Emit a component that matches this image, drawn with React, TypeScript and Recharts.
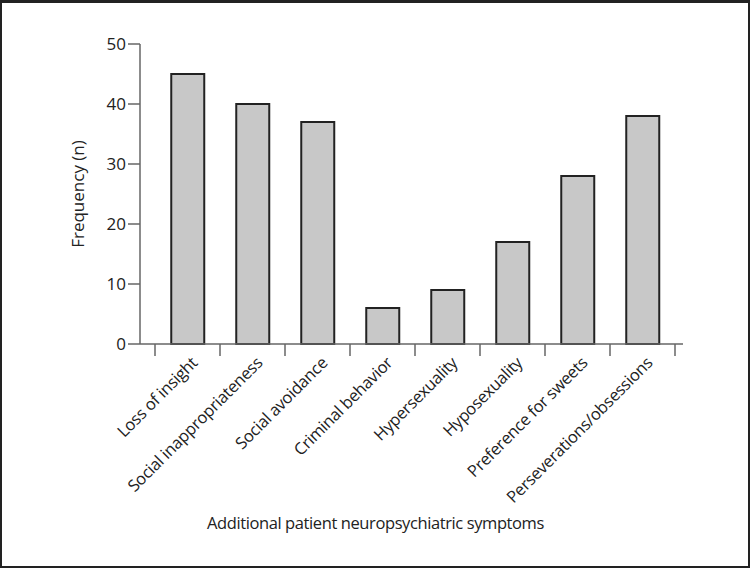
import { BarChart, Bar, XAxis, YAxis } from 'recharts'

const symptoms = [
  'Loss of insight',
  'Social inappropriateness',
  'Social avoidance',
  'Criminal behavior',
  'Hypersexuality',
  'Hyposexuality',
  'Preference for sweets',
  'Perseverations/obsessions',
]
const frequency = [45, 40, 37, 6, 9, 17, 28, 38]
const yTicks = [0, 10, 20, 30, 40, 50]

const data = symptoms.map((name, i) => ({ name, n: frequency[i] }))

const INK = '#222'
const AXIS = '#666'
const FONT = '"Open Sans", sans-serif'

// eslint-disable-next-line @typescript-eslint/no-explicit-any
function SymptomTick({ x, y, payload, index }: any) {
  const half = payload?.offset ?? 32.5
  return (
    <g>
      <line x1={x - half} x2={x - half} y1={y} y2={y + 12} stroke={AXIS} strokeWidth={1.5} />
      {index === symptoms.length - 1 && (
        <line x1={x + half} x2={x + half} y1={y} y2={y + 12} stroke={AXIS} strokeWidth={1.5} />
      )}
      <text
        x={x + 11}
        y={y + 20}
        textAnchor="end"
        transform={`rotate(-45 ${x + 11} ${y + 20})`}
        fill={INK}
        fontSize={16.5}
        letterSpacing={-0.3}
        fontFamily={FONT}
      >
        {payload.value}
      </text>
    </g>
  )
}

export default function App() {
  return (
    <div style={{
      position: 'fixed', top: 0, left: 0, width: 750, height: 568,
      boxSizing: 'border-box', border: '2px solid #222', borderTopWidth: 3,
      background: '#fff',
    }}>
      <div style={{ position: 'absolute', left: 0, top: 0 }}>
        <BarChart
          width={746}
          height={563}
          data={data}
          margin={{ top: 41, right: 65, left: 48, bottom: 0 }}
          barCategoryGap="25%"
        >
          <XAxis
            dataKey="name"
            type="category"
            padding={{ left: 15, right: 8 }}
            axisLine={{ stroke: AXIS, strokeWidth: 1.5 }}
            tickLine={false}
            tickSize={0}
            tickMargin={0}
            interval={0}
            height={222}
            tick={<SymptomTick />}
            label={{
              value: 'Additional patient neuropsychiatric symptoms',
              position: 'insideBottom',
              offset: 37,
              dx: -36,
              fill: INK,
              fontSize: 16.5,
              letterSpacing: -0.4,
              fontFamily: FONT,
            }}
          />
          <YAxis
            domain={[0, 50]}
            ticks={yTicks}
            width={90}
            axisLine={{ stroke: AXIS, strokeWidth: 1.5 }}
            tickLine={{ stroke: AXIS, strokeWidth: 1.5 }}
            tickSize={12}
            tick={{ fill: INK, fontSize: 17, fontFamily: FONT }}
            label={{
              value: 'Frequency (n)',
              angle: -90,
              position: 'insideLeft',
              offset: 28,
              fill: INK,
              fontSize: 17,
              fontFamily: FONT,
              style: { textAnchor: 'middle' },
            }}
          />
          <Bar
            dataKey="n"
            fill="#c8c8c8"
            stroke={INK}
            strokeWidth={2}
            isAnimationActive={false}
          />
        </BarChart>
      </div>
    </div>
  )
}
